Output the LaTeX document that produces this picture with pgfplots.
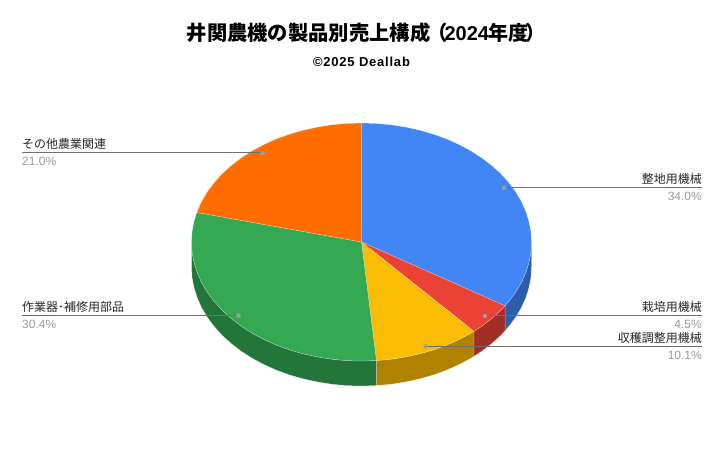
\documentclass[border=0pt]{standalone}
\usepackage{pgfplots}
\pgfplotsset{compat=1.18}
\usepackage{fontspec}
\setmainfont{Liberation Sans}
\newfontfamily\cjk{Noto Sans CJK JP}
\definecolor{cblue}{HTML}{4285F4}
\definecolor{cred}{HTML}{EA4335}
\definecolor{cyel}{HTML}{FBBC04}
\definecolor{cgrn}{HTML}{34A853}
\definecolor{corg}{HTML}{FF6D01}
\definecolor{dblue}{HTML}{2E5DAB}
\definecolor{dred}{HTML}{A32E25}
\definecolor{dyel}{HTML}{AF8300}
\definecolor{dgrn}{HTML}{24753A}
\definecolor{leader}{HTML}{6E6E6E}
\definecolor{dotc}{HTML}{9E9E9E}
\definecolor{pct}{HTML}{999999}
\tikzset{
  slice/.style={draw=white, draw opacity=.35, line width=.5pt},
  lead/.style={color=leader, line width=1pt, mark=none},
  dot/.style={color=dotc, only marks, mark=*, mark size=2pt, mark options={draw=dotc, fill=dotc}},
  cat/.style={font=\fontsize{12}{12}\selectfont\cjk, text=black!85, inner sep=0pt},
  val/.style={font=\fontsize{12}{12}\selectfont, text=pct, inner sep=0pt},
}
\begin{document}
\begin{tikzpicture}
\begin{axis}[
  scale only axis, width=724pt, height=448pt,
  xmin=0, xmax=724, ymin=0, ymax=448, y dir=reverse,
  hide axis, clip=false,
]
\path (axis cs:0,0) rectangle (axis cs:724,448);
% sides
\addplot[fill=dblue, slice] coordinates {(531.5,242)(530.9,252.4)(528.9,262.7)(525.7,272.8)(521.3,282.7)(515.6,292.3)(508.7,301.5)(505.0,305.8)(505.0,330.8)(508.7,326.5)(515.6,317.3)(521.3,307.7)(525.7,297.8)(528.9,287.7)(530.9,277.4)(531.5,267)} --cycle;
\addplot[fill=dred, slice] coordinates {(505.0,305.8)(500.8,310.3)(491.7,318.5)(481.7,326.2)(473.9,331.3)(473.9,356.3)(481.7,351.2)(491.7,343.5)(500.8,335.3)(505.0,330.8)} --cycle;
\addplot[fill=dyel, slice] coordinates {(473.9,331.3)(470.8,333.2)(459.0,339.5)(446.5,345.1)(433.4,349.9)(419.6,353.8)(405.5,356.9)(391.0,359.2)(376.4,360.5)(376.4,385.5)(391.0,384.2)(405.5,381.9)(419.6,378.8)(433.4,374.9)(446.5,370.1)(459.0,364.5)(470.8,358.2)(473.9,356.3)} --cycle;
\addplot[fill=dgrn, slice] coordinates {(376.4,360.5)(361.5,361)(346.7,360.6)(332.0,359.2)(317.5,356.9)(303.4,353.8)(289.6,349.9)(276.5,345.1)(264.0,339.5)(252.2,333.2)(241.3,326.2)(231.3,318.5)(222.2,310.3)(214.3,301.5)(207.4,292.3)(201.7,282.7)(197.3,272.8)(194.1,262.7)(192.1,252.4)(191.5,242)(191.5,267)(192.1,277.4)(194.1,287.7)(197.3,297.8)(201.7,307.7)(207.4,317.3)(214.3,326.5)(222.2,335.3)(231.3,343.5)(241.3,351.2)(252.2,358.2)(264.0,364.5)(276.5,370.1)(289.6,374.9)(303.4,378.8)(317.5,381.9)(332.0,384.2)(346.7,385.6)(361.5,386)(376.4,385.5)} --cycle;
% tops
\addplot[fill=cblue, slice] coordinates {(361.5,242)(361.5,123)(376.3,123.5)(391.0,124.8)(405.5,127.1)(419.6,130.2)(433.4,134.2)(446.5,138.9)(459.0,144.5)(470.8,150.8)(481.7,157.9)(491.7,165.5)(500.8,173.7)(508.7,182.5)(515.6,191.7)(521.3,201.3)(525.7,211.2)(528.9,221.3)(530.9,231.6)(531.5,242)(530.9,252.4)(528.9,262.7)(525.7,272.8)(521.3,282.7)(515.6,292.3)(508.7,301.5)(505.0,305.8)} --cycle;
\addplot[fill=cred, slice] coordinates {(361.5,242)(505.0,305.8)(500.8,310.3)(491.7,318.5)(481.7,326.2)(473.9,331.3)} --cycle;
\addplot[fill=cyel, slice] coordinates {(361.5,242)(473.9,331.3)(470.8,333.2)(459.0,339.5)(446.5,345.1)(433.4,349.9)(419.6,353.8)(405.5,356.9)(391.0,359.2)(376.4,360.5)} --cycle;
\addplot[fill=cgrn, slice] coordinates {(361.5,242)(376.4,360.5)(361.5,361)(346.7,360.6)(332.0,359.2)(317.5,356.9)(303.4,353.8)(289.6,349.9)(276.5,345.1)(264.0,339.5)(252.2,333.2)(241.3,326.2)(231.3,318.5)(222.2,310.3)(214.3,301.5)(207.4,292.3)(201.7,282.7)(197.3,272.8)(194.1,262.7)(192.1,252.4)(191.5,242)(192.1,231.6)(194.1,221.3)(196.8,212.4)} --cycle;
\addplot[fill=corg, slice] coordinates {(361.5,242)(196.8,212.4)(197.3,211.2)(201.7,201.3)(207.4,191.7)(214.3,182.5)(222.2,173.7)(231.3,165.5)(241.3,157.9)(252.2,150.8)(264.0,144.5)(276.5,138.9)(289.6,134.2)(303.4,130.2)(317.5,127.1)(332.0,124.8)(346.7,123.5)(361.5,123)} --cycle;
% leaders
\addplot[lead] coordinates {(504,187.6)(702,187.6)};
\addplot[lead] coordinates {(485,315.5)(702,315.5)};
\addplot[lead] coordinates {(425.7,346.2)(702,346.2)};
\addplot[lead] coordinates {(22,152.6)(262.5,152.6)};
\addplot[lead] coordinates {(22,315.4)(238.5,315.4)};
\addplot[dot] coordinates {(504,187.8)(485,316)(425.7,346.5)(262.5,153)(238.5,315.6)};
% labels
\node[cat, anchor=base east] at (axis cs:702,183) {整地用機械};
\node[val, anchor=base east] at (axis cs:702,200) {34.0\%};
\node[cat, anchor=base east] at (axis cs:702,311) {栽培用機械};
\node[val, anchor=base east] at (axis cs:702,328) {4.5\%};
\node[cat, anchor=base east] at (axis cs:702,342) {収穫調整用機械};
\node[val, anchor=base east] at (axis cs:702,359) {10.1\%};
\node[cat, anchor=base west] at (axis cs:22,148) {その他農業関連};
\node[val, anchor=base west] at (axis cs:22,165) {21.0\%};
\node[cat, anchor=base west] at (axis cs:22,311) {作業器･補修用部品};
\node[val, anchor=base west] at (axis cs:22,328) {30.4\%};
% titles
\node[anchor=base west, inner sep=0pt, font=\fontsize{20}{20}\selectfont\bfseries] at (axis cs:186.5,40) {{\cjk\fontsize{20.3}{20}\selectfont 井関農機の製品別売上構成\hspace{-3pt}（}\hspace{-3pt}2024{\cjk\hspace{-1pt}年度\hspace{-2.5pt}）}};
\node[anchor=base, inner sep=0pt, font=\fontsize{13}{13}\selectfont\bfseries] at (axis cs:361.5,66) {\addfontfeature{LetterSpace=6}©2025 Deallab};
\end{axis}
\end{tikzpicture}
\end{document}
